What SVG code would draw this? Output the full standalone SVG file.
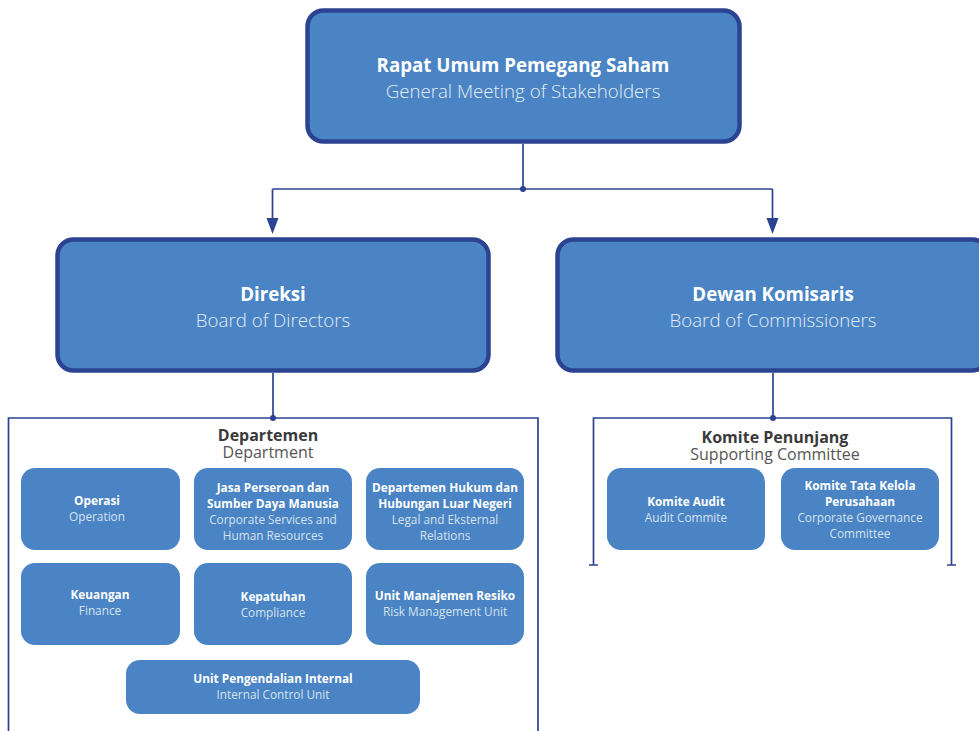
<svg xmlns="http://www.w3.org/2000/svg" width="979" height="731" viewBox="0 0 979 731">
  <style>
    .big { fill: #4a84c4; stroke: #2b4391; stroke-width: 4.5; }
    .unit { fill: #4a84c4; }
    .line { fill: none; stroke: #2b4391; stroke-width: 1.7; }
    .dot { fill: #2b4391; }
    text { font-family: "Open Sans", "Noto Sans", sans-serif; text-anchor: middle; }
    .h1 { font-size: 18.7px; font-weight: 700; fill: #ffffff; }
    .h2 { font-size: 18.7px; font-weight: 300; fill: #e4ecf6; }
    .s1 { font-size: 11.8px; font-weight: 700; fill: #ffffff; }
    .s2 { font-size: 11.8px; font-weight: 400; fill: #d6e2f1; }
    .g1 { font-size: 16px; font-weight: 700; fill: #3a3a3a; }
    .g2 { font-size: 16px; font-weight: 400; fill: #555555; }
  </style>

  <g id="connectors">
    <path class="line" d="M523,144 V189"/>
    <path class="line" d="M272.5,189 H772.5"/>
    <path class="line" d="M272.5,189 V218"/>
    <path class="line" d="M772.5,189 V218"/>
    <path class="dot" d="M266.5,218 L278.5,218 L272.5,234 Z"/>
    <path class="dot" d="M766.5,218 L778.5,218 L772.5,234 Z"/>
    <circle class="dot" cx="523" cy="189" r="3"/>
    <path class="line" d="M273,373 V418"/>
    <circle class="dot" cx="273" cy="418" r="3"/>
    <path class="line" d="M773,373 V418"/>
    <circle class="dot" cx="773" cy="418" r="3"/>
  </g>

  <g id="rups">
    <rect class="big" x="307.5" y="10.5" width="432" height="131" rx="16"/>
    <text class="h1" x="523" y="72">Rapat Umum Pemegang Saham</text>
    <text class="h2" x="523" y="98">General Meeting of Stakeholders</text>
  </g>

  <g id="direksi">
    <rect class="big" x="57.5" y="239.5" width="431" height="131" rx="16"/>
    <text class="h1" x="273" y="301">Direksi</text>
    <text class="h2" x="273" y="327">Board of Directors</text>
  </g>

  <g id="dewan-komisaris">
    <rect class="big" x="557.5" y="239.5" width="431" height="131" rx="16"/>
    <text class="h1" x="773" y="301">Dewan Komisaris</text>
    <text class="h2" x="773" y="327">Board of Commissioners</text>
  </g>

  <g id="departemen">
    <path class="line" d="M8.5,731 V418 H538 V731"/>
    <text class="g1" x="268" y="441">Departemen</text>
    <text class="g2" x="268" y="458">Department</text>
  </g>

  <g id="operasi">
    <rect class="unit" x="21" y="468" width="159" height="82" rx="14"/>
    <text class="s1" x="97" y="505">Operasi</text>
    <text class="s2" x="97" y="521">Operation</text>
  </g>
  <g id="jasa-sdm">
    <rect class="unit" x="194" y="468" width="158" height="82" rx="14"/>
    <text class="s1" x="273" y="492">Jasa Perseroan dan</text>
    <text class="s1" x="273" y="508">Sumber Daya Manusia</text>
    <text class="s2" x="273" y="524">Corporate Services and</text>
    <text class="s2" x="273" y="540">Human Resources</text>
  </g>
  <g id="hukum">
    <rect class="unit" x="366" y="468" width="158" height="82" rx="14"/>
    <text class="s1" x="445" y="492">Departemen Hukum dan</text>
    <text class="s1" x="445" y="508">Hubungan Luar Negeri</text>
    <text class="s2" x="445" y="524">Legal and Eksternal</text>
    <text class="s2" x="445" y="540">Relations</text>
  </g>
  <g id="keuangan">
    <rect class="unit" x="21" y="563" width="159" height="82" rx="14"/>
    <text class="s1" x="100" y="599">Keuangan</text>
    <text class="s2" x="100" y="615">Finance</text>
  </g>
  <g id="kepatuhan">
    <rect class="unit" x="194" y="563" width="158" height="82" rx="14"/>
    <text class="s1" x="273" y="601">Kepatuhan</text>
    <text class="s2" x="273" y="617">Compliance</text>
  </g>
  <g id="manajemen-resiko">
    <rect class="unit" x="366" y="563" width="158" height="82" rx="14"/>
    <text class="s1" x="445" y="600">Unit Manajemen Resiko</text>
    <text class="s2" x="445" y="616">Risk Management Unit</text>
  </g>
  <g id="pengendalian-internal">
    <rect class="unit" x="126" y="660" width="294" height="54" rx="14"/>
    <text class="s1" x="273" y="683">Unit Pengendalian Internal</text>
    <text class="s2" x="273" y="699">Internal Control Unit</text>
  </g>

  <g id="komite-penunjang">
    <path class="line" d="M593.5,565 V418 H951.5 V565"/>
    <path class="line" d="M589,565 H598 M947,565 H956"/>
    <text class="g1" x="775" y="443">Komite Penunjang</text>
    <text class="g2" x="775" y="460">Supporting Committee</text>
  </g>
  <g id="komite-audit">
    <rect class="unit" x="607" y="468" width="158" height="82" rx="14"/>
    <text class="s1" x="686" y="506">Komite Audit</text>
    <text class="s2" x="686" y="522">Audit Commite</text>
  </g>
  <g id="komite-tata-kelola">
    <rect class="unit" x="781" y="468" width="158" height="82" rx="14"/>
    <text class="s1" x="860" y="490">Komite Tata Kelola</text>
    <text class="s1" x="860" y="506">Perusahaan</text>
    <text class="s2" x="860" y="522">Corporate Governance</text>
    <text class="s2" x="860" y="538">Committee</text>
  </g>
</svg>
